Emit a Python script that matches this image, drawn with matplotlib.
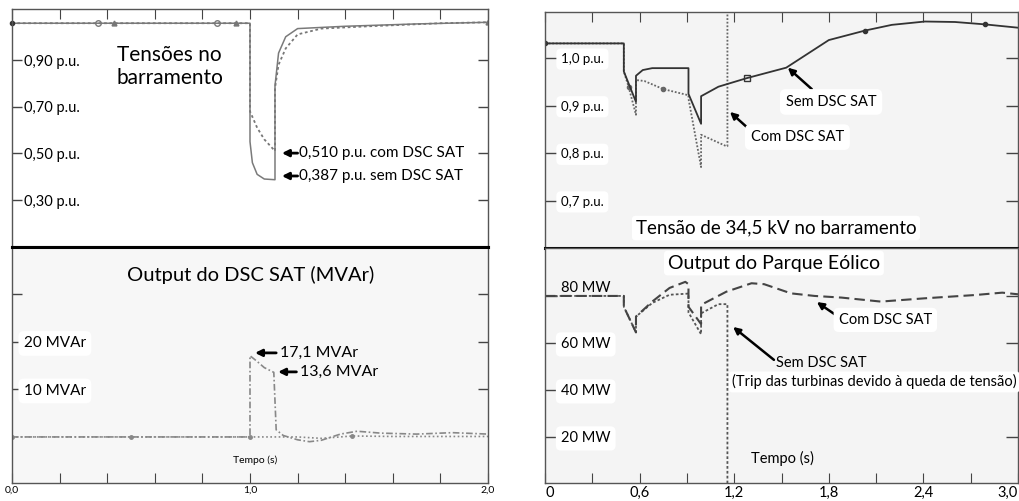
import numpy as np
import matplotlib.pyplot as plt
from matplotlib.transforms import ScaledTranslation

plt.rcParams['font.family'] = ['Lato', 'DejaVu Sans']

W, H = 1019, 501

# ---- Tensões no barramento (esquerda, em cima) ----
t_v_sem = [0.0, 0.36, 0.86, 1.0, 1.0, 1.01, 1.03, 1.06, 1.105, 1.105, 1.12, 1.15, 1.2, 1.4, 1.7, 2.0]
v_v_sem = [1.058, 1.058, 1.058, 1.058, 0.55, 0.46, 0.41, 0.39, 0.387, 0.79, 0.93, 1.0, 1.035, 1.045, 1.055, 1.062]
t_v_com = [0.0, 0.43, 0.94, 1.0, 1.0, 1.03, 1.06, 1.105, 1.105, 1.12, 1.15, 1.2, 1.3, 1.5, 1.8, 2.0]
v_v_com = [1.058, 1.058, 1.058, 1.058, 0.68, 0.61, 0.56, 0.51, 0.78, 0.88, 0.95, 1.01, 1.035, 1.045, 1.058, 1.062]
yt_v = [0.30, 0.50, 0.70, 0.90]
yl_v = ['0,30 p.u.', '0,50 p.u.', '0,70 p.u.', '0,90 p.u.']

# ---- Output do DSC SAT (esquerda, em baixo) ----
t_q = [0.0, 0.5, 1.0, 1.0, 1.03, 1.06, 1.1, 1.11, 1.14, 1.2, 1.25, 1.3, 1.38, 1.45, 1.55, 1.7, 1.85, 2.0]
q_dsc = [0, 0, 0, 17.1, 15.9, 14.6, 13.6, 1.5, 0.3, -0.6, -1.0, -0.7, 0.6, 1.2, 0.8, 0.6, 0.9, 0.6]
t_q2 = [0.0, 0.5, 1.0, 1.2, 1.3, 1.43, 1.6, 1.8, 2.0]
q_dsc2 = [0, 0, 0, 0, -0.3, 0.2, 0.1, 0.1, 0.1]
yt_q = [10, 20, 30]
yl_q = ['10 MVAr', '20 MVAr', '']
xt_left = [0.0, 0.2, 0.4, 0.6, 0.8, 1.0, 1.2, 1.4, 1.6, 1.8, 2.0]
xl_left = ['0,0', '', '', '', '', '1,0', '', '', '', '', '2,0']

# ---- Tensão de 34,5 kV (direita, em cima) ----
t_b_sem = [0.0, 0.5, 0.5, 0.577, 0.577, 0.62, 0.68, 0.91, 0.91, 0.99, 0.99, 1.1, 1.28, 1.53, 1.8, 2.03, 2.2, 2.41, 2.6, 2.79, 3.0]
v_b_sem = [1.031, 1.031, 0.972, 0.908, 0.963, 0.975, 0.979, 0.979, 0.925, 0.862, 0.92, 0.94, 0.958, 0.98, 1.038, 1.058, 1.07, 1.077, 1.076, 1.071, 1.064]
t_b_com = [0.0, 0.5, 0.5, 0.53, 0.577, 0.577, 0.63, 0.75, 0.91, 0.91, 0.99, 0.99, 1.15, 1.157, 1.157]
v_b_com = [1.031, 1.031, 0.972, 0.94, 0.881, 0.954, 0.952, 0.935, 0.922, 0.915, 0.771, 0.839, 0.815, 0.815, 1.2]
yt_b = [0.7, 0.8, 0.9, 1.0]
yl_b = ['0,7 p.u.', '0,8 p.u.', '0,9 p.u.', '1,0 p.u.']

# ---- Output do Parque Eólico (direita, em baixo) ----
t_p_com = [0.0, 0.5, 0.5, 0.577, 0.577, 0.68, 0.79, 0.89, 0.91, 0.91, 0.99, 0.99, 1.15, 1.31, 1.39, 1.56, 1.71, 1.88, 2.13, 2.41, 2.73, 2.9, 3.0]
p_com = [80, 80, 75.4, 64.5, 71.2, 77.6, 83.4, 86, 85, 75.4, 68, 76.2, 81.8, 85.4, 85, 81.1, 80, 79.3, 77.6, 79, 80.4, 81.4, 80.7]
t_p_sem = [0.0, 0.5, 0.5, 0.577, 0.577, 0.68, 0.79, 0.91, 0.91, 0.99, 0.99, 1.1, 1.15, 1.157, 1.157]
p_sem = [80, 80, 75.4, 64.5, 71.2, 77, 80.5, 81, 73, 63.7, 72.6, 76.5, 76.5, 76.5, 0]
yt_p = [20, 40, 60, 80]
yl_p = ['20 MW', '40 MW', '60 MW', '80 MW']
xt_right = [0.0, 0.3, 0.6, 0.9, 1.2, 1.5, 1.8, 2.1, 2.4, 2.7, 3.0]
xl_right = ['0', '', '0,6', '', '1,2', '', '1,8', '', '2,4', '', '3,0']


def rect(x0, y0, x1, y1):
    return [x0 / W, 1 - y1 / H, (x1 - x0) / W, (y1 - y0) / H]


def setup(ax, face, yt, yl, fs, tick_len, pad, box=True):
    ax.set_facecolor(face)
    for s in ax.spines.values():
        s.set_color('#555555')
        s.set_linewidth(1)
    ax.set_yticks(yt)
    ax.set_yticklabels(yl)
    ax.tick_params(axis='y', direction='in', left=True, right=True,
                   length=tick_len, width=1, color='#444444', pad=pad, labelsize=fs)
    for lbl in ax.get_yticklabels():
        lbl.set_horizontalalignment('left')
        if box:
            lbl.set_bbox(dict(boxstyle='round,pad=0.35', fc='white', ec='none'))


def arrow(ax, tip, tail, lw=2.0):
    ax.annotate('', xy=tip, xytext=tail,
                arrowprops=dict(arrowstyle='-|>', color='black', lw=lw,
                                mutation_scale=10, shrinkA=0, shrinkB=0))


fig = plt.figure(figsize=(W / 100, H / 100), dpi=100)
fig.patch.set_facecolor('white')

# ---------- esquerda em cima ----------
ax1 = fig.add_axes(rect(12, 9, 488, 247))
setup(ax1, 'white', yt_v, yl_v, 10.5, 7.5, -8.5, box=False)
ax1.set_xlim(0, 2.0)
ax1.set_ylim(0.0985, 1.119)
ax1.set_xticks(xt_left)
ax1.tick_params(axis='x', direction='in', top=True, bottom=False,
                labeltop=False, labelbottom=False, length=7.5, color='#444444')
ax1.spines['bottom'].set_linewidth(2.2)
ax1.spines['bottom'].set_color('black')
ax1.plot(t_v_sem, v_v_sem, color='#7a7a7a', lw=1.1, marker='o', ms=4, mfc='none',
         markevery=[1, 2])
ax1.plot(t_v_com, v_v_com, color='#777777', lw=1.3, ls=(0, (1.5, 1.5)), marker='^', ms=3.5,
         markevery=[1, 2, 15])
ax1.plot(t_v_sem[:1], v_v_sem[:1], 'o', color='#333333', ms=3, clip_on=False)
ax1.text(0.441, 0.872, 'Tensões no\nbarramento', fontsize=15, ha='left', va='center',
         linespacing=1.15)
arrow(ax1, (1.134, 0.501), (1.2, 0.501))
ax1.text(1.205, 0.501, '0,510 p.u. com DSC SAT', fontsize=11, ha='left', va='center')
arrow(ax1, (1.134, 0.403), (1.2, 0.403))
ax1.text(1.205, 0.403, '0,387 p.u. sem DSC SAT', fontsize=11, ha='left', va='center')

# ---------- esquerda em baixo ----------
ax2 = fig.add_axes(rect(12, 247, 488, 483))
setup(ax2, '#f7f7f7', yt_q, yl_q, 11, 7.5, -8.5)
ax2.set_xlim(0, 2.0)
ax2.set_ylim(-9.7, 40)
ax2.set_xticks(xt_left)
ax2.set_xticklabels(xl_left)
ax2.tick_params(axis='x', direction='in', top=False, bottom=True, length=7.5,
                color='#444444', pad=2, labelsize=7.5)
ax2.spines['top'].set_linewidth(2.2)
ax2.spines['top'].set_color('black')
ax2.plot(t_q2, q_dsc2, color='#888888', lw=1.2, ls=(0, (1, 1.5)), marker='o', ms=2.5,
         markevery=[0, 1, 2, 5])
ax2.plot(t_q, q_dsc, color='#888888', lw=1.2, ls=(0, (4, 1.5, 1, 1.5)))
ax2.text(1.004, 34.1, 'Output do DSC SAT (MVAr)', fontsize=14.5, ha='center', va='center')
ax2.text(1.02, -4.8, 'Tempo (s)', fontsize=7.5, ha='center', va='center')
arrow(ax2, (1.021, 17.7), (1.11, 17.7))
ax2.text(1.126, 17.7, '17,1 MVAr', fontsize=11.5, ha='left', va='center')
arrow(ax2, (1.118, 13.7), (1.195, 13.7))
ax2.text(1.21, 13.7, '13,6 MVAr', fontsize=11.5, ha='left', va='center')

# ---------- direita em cima ----------
ax3 = fig.add_axes(rect(545, 12, 1018, 248))
setup(ax3, '#f4f4f4', yt_b, yl_b, 9.5, 8.5, -11.5)
ax3.set_xlim(0, 3.0)
ax3.set_ylim(0.601, 1.097)
ax3.set_xticks(xt_right)
ax3.tick_params(axis='x', direction='in', top=True, bottom=False,
                labeltop=False, labelbottom=False, length=7.5, color='#444444')
ax3.spines['bottom'].set_linewidth(2.2)
ax3.spines['bottom'].set_color('black')
ax3.plot(t_b_com, v_b_com, color='#666666', lw=1.3, ls=(0, (1, 1)), marker='o', ms=3,
         markevery=[3, 7])
ax3.plot(t_b_sem, v_b_sem, color='#333333', lw=1.3, marker='o', ms=3,
         markevery=[0, 15, 19])
ax3.plot(t_b_sem[12:13], v_b_sem[12:13], 's', mfc='none', mec='#333333', ms=4)
ax3.text(1.465, 0.643, 'Tensão de 34,5 kV no barramento', fontsize=13.5, ha='center', va='center',
         bbox=dict(boxstyle='round,pad=0.2', fc='white', ec='none'))
arrow(ax3, (1.54, 0.98), (1.692, 0.935), lw=1.8)
ax3.text(1.527, 0.908, 'Sem DSC SAT', fontsize=10.5, ha='left', va='center',
         bbox=dict(boxstyle='round,pad=0.4', fc='white', ec='none'))
arrow(ax3, (1.173, 0.887), (1.287, 0.853), lw=1.8)
ax3.text(1.305, 0.834, 'Com DSC SAT', fontsize=10.5, ha='left', va='center',
         bbox=dict(boxstyle='round,pad=0.4', fc='white', ec='none'))

# ---------- direita em baixo ----------
ax4 = fig.add_axes(rect(545, 248, 1018, 483))
setup(ax4, '#f4f4f4', yt_p, yl_p, 10.5, 8.5, -11.5)
ax4.set_xlim(0, 3.0)
ax4.set_ylim(0.4, 100.4)
ax4.set_xticks(xt_right)
ax4.set_xticklabels(xl_right)
ax4.tick_params(axis='x', direction='in', top=False, bottom=True, length=7.5,
                color='#444444', pad=2, labelsize=10.5)
ax4.get_xticklabels()[-1].set_horizontalalignment('right')
ax4.get_xticklabels()[0].set_horizontalalignment('left')
# "80 MW" fica acima da curva
lbl80 = ax4.get_yticklabels()[-1]
lbl80.set_transform(lbl80.get_transform() + ScaledTranslation(0, 9 / 100, fig.dpi_scale_trans))
lbl80.set_bbox(None)
ax4.plot(t_p_sem, p_sem, color='#555555', lw=1.3, ls=(0, (1.5, 1.2)))
ax4.plot(t_p_com, p_com, color='#444444', lw=1.5, ls=(0, (5, 2.5)))
ax4.text(1.452, 94, 'Output do Parque Eólico', fontsize=14, ha='center', va='center',
         bbox=dict(boxstyle='round,pad=0.2', fc='white', ec='none'))
ax4.text(1.305, 11, 'Tempo (s)', fontsize=10.5, ha='left', va='center')
arrow(ax4, (1.724, 77.4), (1.844, 71.9), lw=1.8)
ax4.text(1.863, 69.8, 'Com DSC SAT', fontsize=10.5, ha='left', va='center',
         bbox=dict(boxstyle='round,pad=0.35', fc='white', ec='none'))
arrow(ax4, (1.193, 66.8), (1.452, 52.8), lw=1.8)
ax4.text(1.465, 51.5, 'Sem DSC SAT', fontsize=10.5, ha='left', va='center')
ax4.text(1.186, 43.4, '(Trip das turbinas devido à queda de tensão)', fontsize=10.5,
         ha='left', va='center', bbox=dict(boxstyle='round,pad=0.2', fc='white', ec='none'))

fig.savefig('out.png', dpi=100)
